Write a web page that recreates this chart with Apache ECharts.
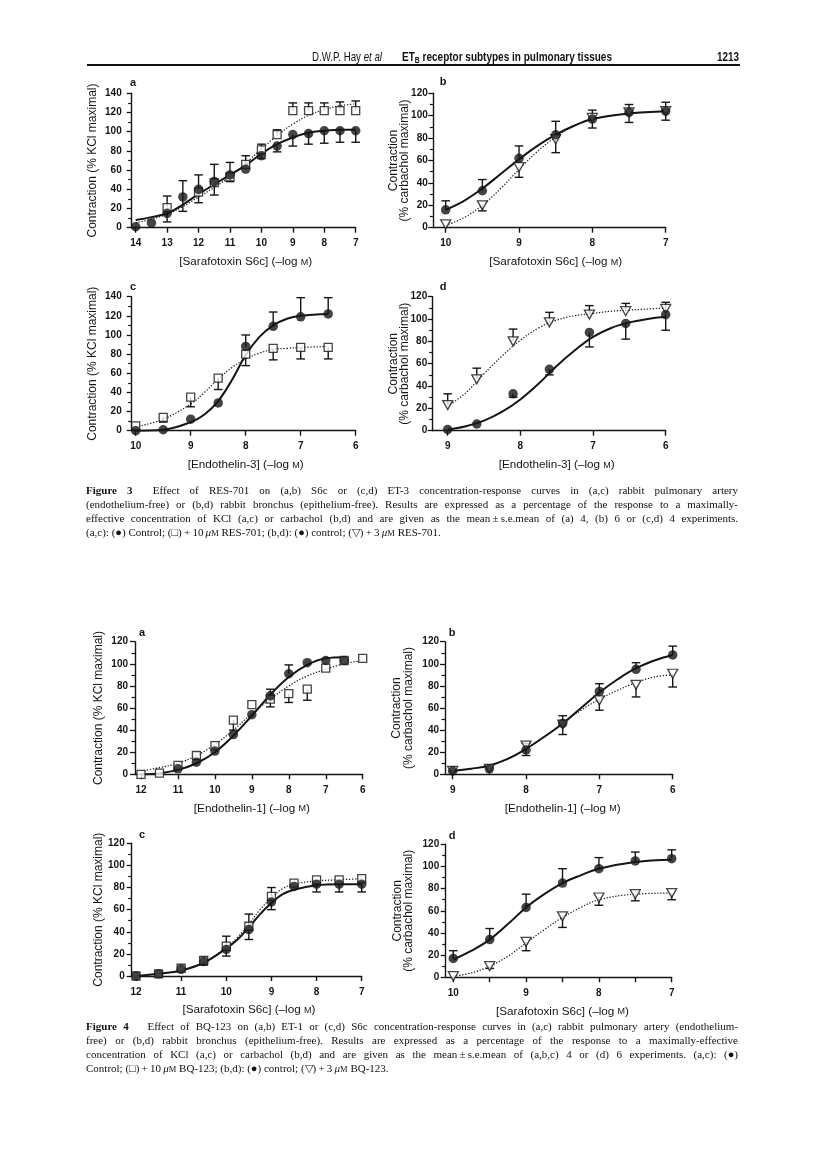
<!DOCTYPE html>
<html><head><meta charset="utf-8">
<script src="https://cdn.jsdelivr.net/npm/echarts@6/dist/echarts.min.js"></script>
<style>
html,body{margin:0;padding:0;background:#fff;}
#page{position:relative;width:816px;height:1157px;overflow:hidden;}
#chart{position:absolute;left:0;top:0;width:816px;height:1157px;}
.hdr{position:absolute;font-family:"Liberation Sans",Arial,sans-serif;font-size:13px;color:#111;white-space:nowrap;line-height:14px;transform-origin:0 0;}
.rule{position:absolute;left:87px;top:64px;width:653px;height:1.6px;background:#111;}
.cap{position:absolute;left:86px;width:652px;font-family:"Liberation Serif","Times New Roman",serif;font-size:11px;color:#111;}
.cap div{height:14px;line-height:14px;text-align:justify;text-justify:inter-word;text-align-last:justify;}
.cap div.last{text-align-last:left;}
.sc{font-size:8.5px;}
.sym{display:inline-block;white-space:nowrap;}
</style></head>
<body><div id="page">
<div id="chart"></div>
<div class="hdr" data-w="70" style="left:312px;top:50px;">D.W.P. Hay <i>et al</i></div>
<div class="hdr" data-w="210" style="left:402px;top:50px;font-weight:bold;">ET<sub style="font-size:9px;vertical-align:-2px;">B</sub> receptor subtypes in pulmonary tissues</div>
<div class="hdr" data-w="22" style="left:717px;top:50px;font-weight:bold;">1213</div>
<div class="rule"></div>
<div class="cap" style="top:483px;">
<div><b>Figure 3</b>&nbsp; Effect of RES-701 on (a,b) S6c or (c,d) ET-3 concentration-response curves in (a,c) rabbit pulmonary artery</div>
<div>(endothelium-free) or (b,d) rabbit bronchus (epithelium-free). Results are expressed as a percentage of the response to a maximally-</div>
<div>effective concentration of KCl (a,c) or carbachol (b,d) and are given as the mean&thinsp;±&thinsp;s.e.mean of (a) 4, (b) 6 or (c,d) 4 experiments.</div>
<div class="last">(a,c): <span class="sym">(●)</span> Control; <span class="sym">(□)</span>&thinsp;+&thinsp;10&thinsp;<i>μ</i><span class="sc">M</span> RES-701; (b,d): <span class="sym">(●)</span> control; <span class="sym">(▽)</span>&thinsp;+&thinsp;3&thinsp;<i>μ</i><span class="sc">M</span> RES-701.</div>
</div>
<div class="cap" style="top:1019px;">
<div><b>Figure 4</b>&nbsp;&nbsp; Effect of BQ-123 on (a,b) ET-1 or (c,d) S6c concentration-response curves in (a,c) rabbit pulmonary artery (endothelium-</div>
<div>free) or (b,d) rabbit bronchus (epithelium-free). Results are expressed as a percentage of the response to a maximally-effective</div>
<div>concentration of KCl (a,c) or carbachol (b,d) and are given as the mean&thinsp;±&thinsp;s.e.mean of (a,b,c) 4 or (d) 6 experiments. (a,c): <span class="sym">(●)</span></div>
<div class="last">Control; <span class="sym">(□)</span>&thinsp;+&thinsp;10&thinsp;<i>μ</i><span class="sc">M</span> BQ-123; (b,d): <span class="sym">(●)</span> control; <span class="sym">(▽)</span>&thinsp;+&thinsp;3&thinsp;<i>μ</i><span class="sc">M</span> BQ-123.</div>
</div>
</div>
<script>
// ---------------- DATA ----------------
// Figure 3a
const f3a_x = [14, 13.5, 13, 12.5, 12, 11.5, 11, 10.5, 10, 9.5, 9, 8.5, 8, 7.5, 7];
const f3a_ctrl = [1, 5, 15, 32, 40, 48, 55, 61, 75, 85, 97, 98, 101, 101, 101];
const f3a_ctrlUp = [0, 0, 0, 17, 15, 18, 13, 14, 0, 0, 0, 0, 0, 0, 0];
const f3a_ctrlDn = [0, 0, 9, 15, 0, 14, 7, 0, 3, 6, 12, 11, 13, 12, 12];
const f3a_trt = [null, null, 21, null, 37, 47, 53, 66, 81, 97, 122, 122, 122, 122, 122];
const f3a_trtUp = [0, 0, 12, 0, 0, 0, 0, 0, 6, 5, 8, 8, 8, 9, 10];
const f3a_trtDn = [0, 0, 0, 0, 11, 0, 0, 0, 0, 0, 0, 0, 0, 0, 0];
const f3a_curveX = [14, 13.5, 13, 12.5, 12, 11.5, 11, 10.5, 10, 9.5, 9, 8.5, 8, 7.5, 7];
const f3a_ctrlCurve = [8, 11, 15, 24, 35, 45, 55, 65, 77, 87, 94, 99, 101, 102, 102];
const f3a_trtCurve = [5, 9, 14, 22, 32, 42, 53, 67, 82, 96, 108, 117, 123, 127, 129];
const f3a_ticks = [14, 13, 12, 11, 10, 9, 8, 7];
// Figure 3b
const f3b_x = [10, 9.5, 9, 8.5, 8, 7.5, 7];
const f3b_ctrl = [16, 33, 62, 83, 97, 103, 104];
const f3b_ctrlUp = [8, 10, 11, 12, 8, 7, 8];
const f3b_trt = [3, 20, 54, 79, 98, 103, 104];
const f3b_trtDn = [0, 5, 9, 12, 9, 9, 8];
const f3b_curveX = [10, 9.75, 9.5, 9.25, 9, 8.75, 8.5, 8.25, 8, 7.5, 7];
const f3b_ctrlCurve = [16, 24, 35, 48, 61, 73, 83, 91, 97, 102, 104];
const f3b_trtCurve = [2, 9, 20, 35, 52, 68, 81, 91, 97, 102, 104];
const f3b_ticks = [10, 9, 8, 7];
// Figure 3c
const f3c_x = [10, 9.5, 9, 8.5, 8, 7.5, 7, 6.5];
const f3c_ctrl = [0, 1, 12, 29, 88, 109, 119, 122];
const f3c_ctrlUp = [0, 0, 0, 0, 12, 15, 20, 17];
const f3c_trt = [5, 14, 35, 55, 80, 86, 87, 87];
const f3c_trtDn = [0, 5, 10, 12, 12, 12, 12, 12];
const f3c_curveX = [10, 9.5, 9, 8.75, 8.5, 8.25, 8, 7.75, 7.5, 7.25, 7, 6.5];
const f3c_ctrlCurve = [0, 1, 9, 17, 31, 53, 79, 98, 110, 117, 120, 122];
const f3c_trtCurve = [4, 12, 28, 40, 54, 66, 75, 81, 85, 86, 87, 88];
const f3c_ticks = [10, 9, 8, 7, 6];
// Figure 3d
const f3d_x = [9, 8.6, 8.1, 7.6, 7.05, 6.55, 6];
const f3d_ctrl = [1, 6, 33, 55, 88, 96, 104];
const f3d_ctrlDn = [0, 0, 3, 5, 13, 14, 14];
const f3d_trt = [23, 46, 80, 97, 104, 107, 109];
const f3d_trtUp = [10, 10, 11, 9, 8, 7, 6];
const f3d_curveX = [9, 8.75, 8.5, 8.25, 8, 7.75, 7.5, 7.25, 7, 6.75, 6.5, 6.25, 6];
const f3d_ctrlCurve = [1, 4, 9, 17, 28, 42, 58, 72, 84, 92, 97, 100, 102];
const f3d_trtCurve = [22, 34, 51, 67, 81, 92, 99, 103, 105, 107, 108, 109, 110];
const f3d_ticks = [9, 8, 7, 6];
// Figure 4a
const f4a_x = [12, 11.5, 11, 10.5, 10, 9.5, 9, 8.5, 8, 7.5, 7, 6.5, 6];
const f4a_ctrl = [null, null, 5, 11, 21, 36, 54, 71, 91, 101, 103, 103, null];
const f4a_ctrlUp = [0, 0, 0, 0, 0, 0, 0, 6, 8, 0, 0, 0, 0];
const f4a_trt = [0, 1, 8, 17, 26, 49, 63, 68, 73, 77, 96, 103, 105];
const f4a_trtDn = [0, 0, 0, 0, 0, 9, 0, 7, 8, 10, 0, 0, 0];
const f4a_curveX = [12, 11.5, 11, 10.5, 10, 9.5, 9, 8.5, 8, 7.5, 7, 6.5];
const f4a_ctrlCurve = [0, 1, 4, 10, 20, 35, 53, 72, 88, 99, 105, 106];
const f4a_trtCurveX = [12, 11.5, 11, 10.5, 10, 9.5, 9, 8.5, 8, 7.5, 7, 6.5, 6];
const f4a_trtCurve = [3, 6, 10, 17, 27, 40, 55, 68, 80, 89, 95, 100, 103];
const f4a_ticks = [12, 11, 10, 9, 8, 7, 6];
// Figure 4b
const f4b_x = [9, 8.5, 8, 7.5, 7, 6.5, 6];
const f4b_ctrl = [3, 5, 22, 46, 75, 95, 108];
const f4b_ctrlUp = [0, 0, 0, 7, 7, 6, 8];
const f4b_ctrlDn = [0, 0, 5, 0, 0, 0, 0];
const f4b_trt = [3, 5, 26, 45, 67, 81, 91];
const f4b_trtUp = [0, 0, 2, 0, 0, 0, 0];
const f4b_trtDn = [0, 0, 0, 9, 9, 11, 12];
const f4b_curveX = [9, 8.75, 8.5, 8.25, 8, 7.75, 7.5, 7.25, 7, 6.75, 6.5, 6.25, 6];
const f4b_ctrlCurve = [3, 5, 8, 14, 23, 34, 46, 60, 74, 86, 96, 103, 108];
const f4b_trtCurve = [3, 5, 8, 14, 23, 34, 46, 58, 68, 76, 83, 88, 90];
const f4b_ticks = [9, 8, 7, 6];
// Figure 4c
const f4c_x = [12, 11.5, 11, 10.5, 10, 9.5, 9, 8.5, 8, 7.5, 7];
const f4c_ctrl = [0, 2, 6, 13, 24, 42, 67, 81, 83, 83, 83];
const f4c_ctrlDn = [0, 0, 0, 3, 6, 9, 7, 0, 7, 7, 7];
const f4c_trt = [0, 2, 7, 14, 27, 45, 72, 84, 87, 87, 88];
const f4c_trtUp = [0, 0, 2, 3, 9, 11, 8, 0, 0, 0, 0];
const f4c_curveX = [12, 11.5, 11, 10.5, 10, 9.75, 9.5, 9.25, 9, 8.75, 8.5, 8, 7.5, 7];
const f4c_ctrlCurve = [0, 2, 5, 12, 25, 33, 44, 56, 66, 74, 78, 82, 83, 83];
const f4c_trtCurve = [0, 2, 5, 12, 26, 35, 47, 60, 71, 79, 83, 86, 87, 88];
const f4c_ticks = [12, 11, 10, 9, 8, 7];
// Figure 4d
const f4d_x = [10, 9.5, 9, 8.5, 8, 7.5, 7];
const f4d_ctrl = [17, 34, 63, 85, 98, 105, 107];
const f4d_ctrlUp = [7, 10, 12, 13, 10, 8, 8];
const f4d_trt = [1, 10, 32, 55, 72, 75, 76];
const f4d_trtDn = [0, 2, 8, 10, 7, 6, 6];
const f4d_curveX = [10, 9.75, 9.5, 9.25, 9, 8.75, 8.5, 8.25, 8, 7.5, 7];
const f4d_ctrlCurve = [16, 24, 34, 48, 63, 75, 85, 92, 98, 104, 106];
const f4d_trtCurve = [1, 4, 10, 19, 31, 43, 54, 63, 70, 75, 76];
const f4d_ticks = [10, 9.5, 9, 8.5, 8, 7.5, 7];
const f4d_labels = [10, 9, 8, 7];

const yTicks140 = [0, 20, 40, 60, 80, 100, 120, 140];
const yTicks120 = [0, 20, 40, 60, 80, 100, 120];

const nameKCl = 'Contraction (% KCl maximal)';
const nameCarb = 'Contraction\n(% carbachol maximal)';
const nameS6c = '[Sarafotoxin S6c] (–log {sc|M})';
const nameET3 = '[Endothelin-3] (–log {sc|M})';
const nameET1 = '[Endothelin-1] (–log {sc|M})';

// ---------------- LAYOUT ----------------
const INK = '#151515';
const FONT = '"Liberation Sans", Arial, Helvetica, sans-serif';
const panels = [
  { letter:'a', L:131.7, x0:135.7, x1:355.7, top:93.3, bottom:227.7, ticks:f3a_ticks, labels:f3a_ticks, yTicks:yTicks140, yName:nameKCl, yGap:33, yLM:10, xName:nameS6c,
    ctrl:[f3a_x, f3a_ctrl, f3a_ctrlUp, f3a_ctrlDn], trt:[f3a_x, f3a_trt, f3a_trtUp, f3a_trtDn], trtSym:'rect',
    ctrlCurve:[f3a_curveX, f3a_ctrlCurve], trtCurve:[f3a_curveX, f3a_trtCurve], lx:133, ly:83 },
  { letter:'b', L:433.3, x0:445.7, x1:665.7, top:93.3, bottom:227.7, ticks:f3b_ticks, labels:f3b_ticks, yTicks:yTicks120, yName:nameCarb, yGap:22.5, yLM:5.5, xName:nameS6c,
    ctrl:[f3b_x, f3b_ctrl, f3b_ctrlUp, null], trt:[f3b_x, f3b_trt, null, f3b_trtDn], trtSym:'tri',
    ctrlCurve:[f3b_curveX, f3b_ctrlCurve], trtCurve:[f3b_curveX, f3b_trtCurve], lx:443, ly:82 },
  { letter:'c', L:131.7, x0:135.7, x1:355.7, top:296.7, bottom:430.7, ticks:f3c_ticks, labels:f3c_ticks, yTicks:yTicks140, yName:nameKCl, yGap:33, yLM:10, xName:nameET3,
    ctrl:[f3c_x, f3c_ctrl, f3c_ctrlUp, null], trt:[f3c_x, f3c_trt, null, f3c_trtDn], trtSym:'rect',
    ctrlCurve:[f3c_curveX, f3c_ctrlCurve], trtCurve:[f3c_curveX, f3c_trtCurve], lx:133, ly:287 },
  { letter:'d', L:432.7, x0:447.7, x1:665.7, top:296.7, bottom:430.7, ticks:f3d_ticks, labels:f3d_ticks, yTicks:yTicks120, yName:nameCarb, yGap:22, yLM:5.5, xName:nameET3,
    ctrl:[f3d_x, f3d_ctrl, null, f3d_ctrlDn], trt:[f3d_x, f3d_trt, f3d_trtUp, null], trtSym:'tri',
    ctrlCurve:[f3d_curveX, f3d_ctrlCurve], trtCurve:[f3d_curveX, f3d_trtCurve], lx:443, ly:287 },
  { letter:'a', L:135, x0:141, x1:362.7, top:641.7, bottom:774.3, ticks:f4a_ticks, labels:f4a_ticks, yTicks:yTicks120, yName:nameKCl, yGap:30.5, yLM:7, xName:nameET1,
    ctrl:[f4a_x, f4a_ctrl, f4a_ctrlUp, null], trt:[f4a_x, f4a_trt, null, f4a_trtDn], trtSym:'rect',
    ctrlCurve:[f4a_curveX, f4a_ctrlCurve], trtCurve:[f4a_trtCurveX, f4a_trtCurve], lx:142, ly:633 },
  { letter:'b', L:445, x0:452.7, x1:672.7, top:641.7, bottom:774.3, ticks:f4b_ticks, labels:f4b_ticks, yTicks:yTicks120, yName:nameCarb, yGap:31, yLM:6, xName:nameET1,
    ctrl:[f4b_x, f4b_ctrl, f4b_ctrlUp, f4b_ctrlDn], trt:[f4b_x, f4b_trt, f4b_trtUp, f4b_trtDn], trtSym:'tri',
    ctrlCurve:[f4b_curveX, f4b_ctrlCurve], trtCurve:[f4b_curveX, f4b_trtCurve], lx:452, ly:633 },
  { letter:'c', L:131.7, x0:136, x1:361.7, top:843.3, bottom:976, ticks:f4c_ticks, labels:f4c_ticks, yTicks:yTicks120, yName:nameKCl, yGap:27.5, yLM:7, xName:nameS6c,
    ctrl:[f4c_x, f4c_ctrl, null, f4c_ctrlDn], trt:[f4c_x, f4c_trt, f4c_trtUp, null], trtSym:'rect',
    ctrlCurve:[f4c_curveX, f4c_ctrlCurve], trtCurve:[f4c_curveX, f4c_trtCurve], lx:142, ly:835 },
  { letter:'d', L:445.7, x0:453.3, x1:671.7, top:844.3, bottom:977.3, ticks:f4d_ticks, labels:f4d_labels, yTicks:yTicks120, yName:nameCarb, yGap:31, yLM:6.5, xName:nameS6c,
    ctrl:[f4d_x, f4d_ctrl, f4d_ctrlUp, null], trt:[f4d_x, f4d_trt, null, f4d_trtDn], trtSym:'tri',
    ctrlCurve:[f4d_curveX, f4d_ctrlCurve], trtCurve:[f4d_curveX, f4d_trtCurve], lx:452, ly:836 }
];

function pts(xs, ys){ const out=[]; xs.forEach((x,i)=>{ if(ys[i]!=null) out.push([x, ys[i]]); }); return out; }
function errData(xs, ys, up, dn){
  const out=[]; xs.forEach((x,i)=>{ if(ys[i]==null) return; const u=(up&&up[i])||0, d=(dn&&dn[i])||0; if(u>0||d>0) out.push([x, ys[i], u, d]); }); return out;
}
function errSeries(gi, xs, ys, up, dn){
  return { type:'custom', xAxisIndex:gi, yAxisIndex:gi, z:3, silent:true, clip:false,
    dimensions:['x','y','u','d'], encode:{x:0, y:1},
    data: errData(xs, ys, up, dn),
    renderItem(params, api){
      const x=api.value(0), y=api.value(1), u=api.value(2), d=api.value(3);
      const hw=4.3, st={stroke:INK, lineWidth:1.4};
      const ch=[];
      const p0=api.coord([x,y]);
      [[u,1],[d,-1]].forEach(([e,s])=>{
        if(e>0){ const p1=api.coord([x, y+s*e]);
          ch.push({type:'line', shape:{x1:p0[0],y1:p0[1],x2:p1[0],y2:p1[1]}, style:st});
          ch.push({type:'line', shape:{x1:p1[0]-hw,y1:p1[1],x2:p1[0]+hw,y2:p1[1]}, style:st}); }
      });
      return {type:'group', children:ch};
    } };
}

const option = { animation:false, backgroundColor:'#fff', grid:[], xAxis:[], yAxis:[], series:[], graphic:[] };
panels.forEach((p, gi) => {
  const vFirst = p.ticks[0], vLast = p.ticks[p.ticks.length-1];
  const ppu = (p.x1 - p.x0) / (vFirst - vLast);
  const vExt = vFirst + (p.x0 - p.L) / ppu;
  option.grid.push({ left:p.L, top:p.top, width:p.x1 - p.L, height:p.bottom - p.top, outerBoundsMode:'none', containLabel:false });
  const shift = (p.x0 - p.L);
  option.xAxis.push({ gridIndex:gi, type:'value', inverse:true, min:vLast, max:vExt,
    axisLine:{ show:true, onZero:false, lineStyle:{ color:INK, width:1.4 } },
    axisTick:{ show:true, inside:false, length:5, customValues:p.ticks, lineStyle:{ color:INK, width:1.4 } },
    axisLabel:{ customValues:p.labels, margin:11, fontSize:10, fontWeight:'bold', color:INK, fontFamily:FONT },
    splitLine:{ show:false },
    name:p.xName, nameLocation:'middle', nameGap:28, nameMoveOverlap:false,
    nameTextStyle:{ fontSize:11.7, color:INK, fontFamily:FONT, padding:[0,0,0,shift],
      rich:{ sc:{ fontSize:9, color:INK, fontFamily:FONT, verticalAlign:'bottom', padding:[0,0,1,0] } } } });
  const ymax = p.yTicks[p.yTicks.length-1];
  option.yAxis.push({ gridIndex:gi, type:'value', min:0, max:ymax, interval:20,
    axisLine:{ show:true, onZero:false, lineStyle:{ color:INK, width:1.4 } },
    axisTick:{ show:true, inside:false, length:5, lineStyle:{ color:INK, width:1.3 } },
    minorTick:{ show:true, splitNumber:2, length:3.5, lineStyle:{ color:INK, width:1.2 } },
    axisLabel:{ margin:p.yLM, fontSize:10, fontWeight:'bold', color:INK, fontFamily:FONT },
    splitLine:{ show:false }, minorSplitLine:{ show:false },
    name:p.yName, nameLocation:'middle', nameRotate:90, nameGap:p.yGap, nameMoveOverlap:false,
    nameTextStyle:{ fontSize:12, color:INK, fontFamily:FONT, lineHeight:11.5 } });
  // curves
  option.series.push({ type:'line', xAxisIndex:gi, yAxisIndex:gi, z:1, silent:true, showSymbol:false, smooth:0.4,
    data:pts(p.trtCurve[0], p.trtCurve[1]), lineStyle:{ color:INK, width:1.2, type:[1.3,1.7] } });
  option.series.push({ type:'line', xAxisIndex:gi, yAxisIndex:gi, z:2, silent:true, showSymbol:false, smooth:0.4,
    data:pts(p.ctrlCurve[0], p.ctrlCurve[1]), lineStyle:{ color:INK, width:2 } });
  // error bars
  option.series.push(errSeries(gi, p.trt[0], p.trt[1], p.trt[2], p.trt[3]));
  option.series.push(errSeries(gi, p.ctrl[0], p.ctrl[1], p.ctrl[2], p.ctrl[3]));
  // symbols
  const tri = p.trtSym === 'tri';
  option.series.push({ type:'scatter', xAxisIndex:gi, yAxisIndex:gi, z:5, silent:true,
    symbol: tri ? 'triangle' : 'rect', symbolSize: tri ? [10,9] : 8, symbolRotate: tri ? 180 : 0,
    itemStyle:{ color:'#fff', borderColor:INK, borderWidth:1.3 },
    data:pts(p.trt[0], p.trt[1]) });
  option.series.push({ type:'scatter', xAxisIndex:gi, yAxisIndex:gi, z:6, silent:true,
    symbol:'circle', symbolSize:9.5, itemStyle:{ color:INK },
    data:pts(p.ctrl[0], p.ctrl[1]) });
  option.graphic.push({ type:'text', x:p.lx, y:p.ly, silent:true,
    style:{ text:p.letter, fill:INK, font:'bold 11px "Liberation Sans", Arial, sans-serif', align:'center', verticalAlign:'middle', textAlign:'center', textVerticalAlign:'middle' } });
});

const chart = echarts.init(document.getElementById('chart'), null, { renderer:'canvas' });
chart.setOption(option);

// condensed running head: squeeze each piece to its measured width in the page
document.querySelectorAll('.hdr[data-w]').forEach(el => {
  const w = el.getBoundingClientRect().width;
  el.style.transform = 'scaleX(' + (parseFloat(el.dataset.w) / w) + ')';
});
</script>
</body></html>
